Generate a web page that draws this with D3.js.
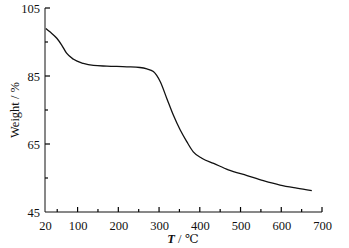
<!DOCTYPE html>
<html>
<head>
<meta charset="utf-8">
<script src="https://cdn.jsdelivr.net/npm/d3@7"></script>
<style>
  body { margin: 0; background: #fff; }
  text { font-family: "Liberation Serif", "DejaVu Serif", serif; fill: #111; }
</style>
</head>
<body>
<div id="chart"></div>
<script>
// TG curve
const temps = [22, 32, 49, 61, 73, 90, 114, 139, 172, 221, 253, 270, 286, 303, 319, 335, 352, 368, 384, 405, 434, 470, 516, 556, 597, 638, 675];
const weights = [99.0, 98.0, 96.1, 94.1, 91.7, 89.9, 88.7, 88.1, 87.9, 87.7, 87.5, 87.1, 86.3, 83.3, 78.4, 73.5, 69.1, 65.7, 62.7, 60.8, 59.3, 57.4, 55.7, 54.2, 52.9, 52.0, 51.3];
const xTicks = [20, 100, 200, 300, 400, 500, 600, 700];
const xMinor = [50, 150, 250, 350, 450, 550, 650];
const yTicks = [45, 65, 85, 105];
const yMinor = [55, 75, 95];

const W = 349, H = 248;
const svg = d3.select("#chart").append("svg").attr("width", W).attr("height", H);

let x = d3.scaleLinear().domain([20, 700]).range([45, 322]);
let y = d3.scaleLinear().domain([45, 105]).range([212, 8]);

// axis labels from d3 axes (tick lines drawn separately below)
const xAxis = svg.append("g").attr("transform", "translate(0,212)")
  .call(d3.axisBottom(x).tickValues(xTicks).tickSize(0).tickPadding(9).tickFormat(d3.format("d")));
const yAxis = svg.append("g").attr("transform", "translate(45,0)")
  .call(d3.axisLeft(y).tickValues(yTicks).tickSize(0).tickPadding(5).tickFormat(d3.format("d")));

[xAxis, yAxis].forEach(g => {
  g.select(".domain").remove();
  g.selectAll(".tick line").remove();
  g.selectAll(".tick text").style("font-size", "12.5px").style("font-family", "'Liberation Serif'");
});

// inward ticks, major and minor
const ticks = svg.append("g").attr("stroke", "#000").attr("stroke-width", 1.2);
ticks.selectAll(".xt").data(xTicks.slice(1)).join("line")
  .attr("x1", d => x(d)).attr("x2", d => x(d)).attr("y1", 212).attr("y2", 207);
ticks.selectAll(".xm").data(xMinor).join("line")
  .attr("x1", d => x(d)).attr("x2", d => x(d)).attr("y1", 212).attr("y2", 209);
ticks.selectAll(".yt").data(yTicks.slice(1)).join("line")
  .attr("x1", 45).attr("x2", 50).attr("y1", d => y(d)).attr("y2", d => y(d));
ticks.selectAll(".ym").data(yMinor).join("line")
  .attr("x1", 45).attr("x2", 48).attr("y1", d => y(d)).attr("y2", d => y(d));

// axis lines
svg.append("line").attr("x1", 45).attr("x2", 45).attr("y1", y(105)).attr("y2", y(45)).attr("stroke", "#111");
svg.append("line").attr("x1", 45).attr("x2", x(700)).attr("y1", 212).attr("y2", 212).attr("stroke", "#111");

const data = temps.map((t, i) => ({ t: t, w: weights[i] }));
const line = d3.line().x(d => x(d.t)).y(d => y(d.w)).curve(d3.curveMonotoneX);

svg.append("path").datum(data)
  .attr("d", line)
  .attr("fill", "none")
  .attr("stroke", "#111")
  .attr("stroke-width", 1.3);

// axis titles
const xt = svg.append("text").attr("x", 183).attr("y", 243).attr("text-anchor", "middle").style("font-size", "12.5px");
xt.append("tspan").style("font-style", "italic").style("font-weight", "bold").text("T");
xt.append("tspan").text(" / ℃");

svg.append("text")
  .attr("transform", "translate(19,110) rotate(-90)")
  .attr("text-anchor", "middle")
  .style("font-size", "12.5px")
  .text("Weight / %");
</script>
</body>
</html>
